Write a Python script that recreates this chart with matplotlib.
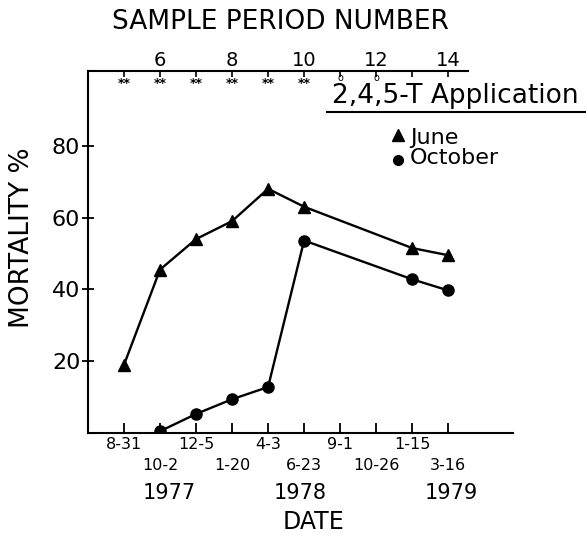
import matplotlib
matplotlib.use("Agg")
import matplotlib.pyplot as plt
from matplotlib.lines import Line2D
from matplotlib.transforms import blended_transform_factory

plt.rcParams['font.family'] = ['DejaVu Sans']

# Data
june_period = [5, 6, 7, 8, 9, 10, 13, 14]
june_mort = [19, 45.5, 54, 59, 68, 63, 51.5, 49.5]
oct_period = [6, 7, 8, 9, 10, 13, 14]
oct_mort = [0.5, 5.3, 9.4, 12.8, 53.6, 42.8, 39.7]

date_periods = [5, 6, 7, 8, 9, 10, 11, 12, 13, 14]
date_labels = ["8-31", "10-2", "12-5", "1-20", "4-3", "6-23", "9-1", "10-26", "1-15", "3-16"]
year_labels = ["1977", "1978", "1979"]
year_pos = [6.25, 9.9, 14.1]
top_major = [6, 8, 10, 12, 14]
star_periods = [5, 6, 7, 8, 9, 10]
circ_periods = [11, 12]
yticks = [20, 40, 60, 80]

W, H = 586, 533
fig = plt.figure(figsize=(W / 100, H / 100), dpi=100)
L, R, B, T = 88, 513, 433, 71
ax = fig.add_axes([L / W, 1 - B / H, (R - L) / W, (B - T) / H])
ax.set_xlim(4.0, 15.8)
ax.set_ylim(0, 100.8)

ax.plot(june_period, june_mort, color='black', lw=1.7, marker='^', ms=9, zorder=3)
ax.plot(oct_period, oct_mort, color='black', lw=1.7, marker='o', ms=8, zorder=3)

for s in ['top', 'right']:
    ax.spines[s].set_visible(False)
for s in ['left', 'bottom']:
    ax.spines[s].set_linewidth(1.5)

# top partial spine
ax.add_line(Line2D([0, (468 - L) / (R - L)], [1, 1], transform=ax.transAxes,
                   color='black', lw=1.5, clip_on=False))

# y ticks
ax.set_yticks(yticks)
ax.set_yticklabels([str(v) for v in yticks], fontsize=16)
ax.tick_params(axis='y', direction='inout', length=9, width=1.3, pad=1)

# bottom ticks: odd periods on first row (major), even on second row (minor)
odd = [(p, lab) for i, (p, lab) in enumerate(zip(date_periods, date_labels)) if i % 2 == 0]
even = [(p, lab) for i, (p, lab) in enumerate(zip(date_periods, date_labels)) if i % 2 == 1]
ax.set_xticks([p for p, _ in odd])
ax.set_xticklabels([lab for _, lab in odd], fontsize=11.5)
ax.set_xticks([p for p, _ in even], minor=True)
ax.set_xticklabels([lab for _, lab in even], minor=True, fontsize=11.5)
ax.tick_params(axis='x', which='major', direction='in', length=7, width=1.3, pad=3)
ax.tick_params(axis='x', which='minor', direction='in', length=7, width=1.3, pad=18)

# top secondary axis
sec = ax.secondary_xaxis('top')
sec.spines['top'].set_visible(False)
sec.set_xticks(top_major)
sec.set_xticklabels([str(v) for v in top_major], fontsize=14)
sec.set_xticks([5, 7, 9, 11, 13], minor=True)
sec.tick_params(axis='x', which='both', direction='in', length=4, width=1.2, pad=1)

tr = blended_transform_factory(ax.transData, ax.transAxes)
for p in star_periods:
    ax.text(p, 1 - 12 / (B - T), "**", transform=tr, ha='center', va='center',
            fontsize=9, fontweight='bold')
for p in circ_periods:
    ax.text(p, 1 - 7 / (B - T), "o", transform=tr, ha='center', va='center',
            fontsize=7)

# year labels and DATE
for p, y in zip(year_pos, year_labels):
    ax.text(p, -60 / (B - T), y, transform=tr, ha='center', va='center', fontsize=15)
ax.text(10.25, -89 / (B - T), "DATE", transform=tr, ha='center', va='center', fontsize=17)

# Titles
fig.text(280 / W, 1 - 22 / H, "SAMPLE PERIOD NUMBER", ha='center', va='center', fontsize=19)
fig.text(22 / W, 1 - 238 / H, "MORTALITY %", ha='center', va='center', fontsize=19,
         rotation=90)

# Legend
fig.text(455 / W, 1 - 96 / H, "2,4,5-T Application", ha='center', va='center', fontsize=19)
fig.add_artist(Line2D([327 / W, 586 / W], [1 - 112 / H, 1 - 112 / H], color='black', lw=1.5,
                      transform=fig.transFigure))
fig.add_artist(Line2D([398 / W], [1 - 135 / H], marker='^', ms=8, color='black',
                      transform=fig.transFigure))
fig.add_artist(Line2D([398 / W], [1 - 160 / H], marker='o', ms=7, color='black',
                      transform=fig.transFigure))
fig.text(410 / W, 1 - 138 / H, "June", ha='left', va='center', fontsize=16)
fig.text(410 / W, 1 - 158 / H, "October", ha='left', va='center', fontsize=16)

fig.savefig("out.png", dpi=100)
